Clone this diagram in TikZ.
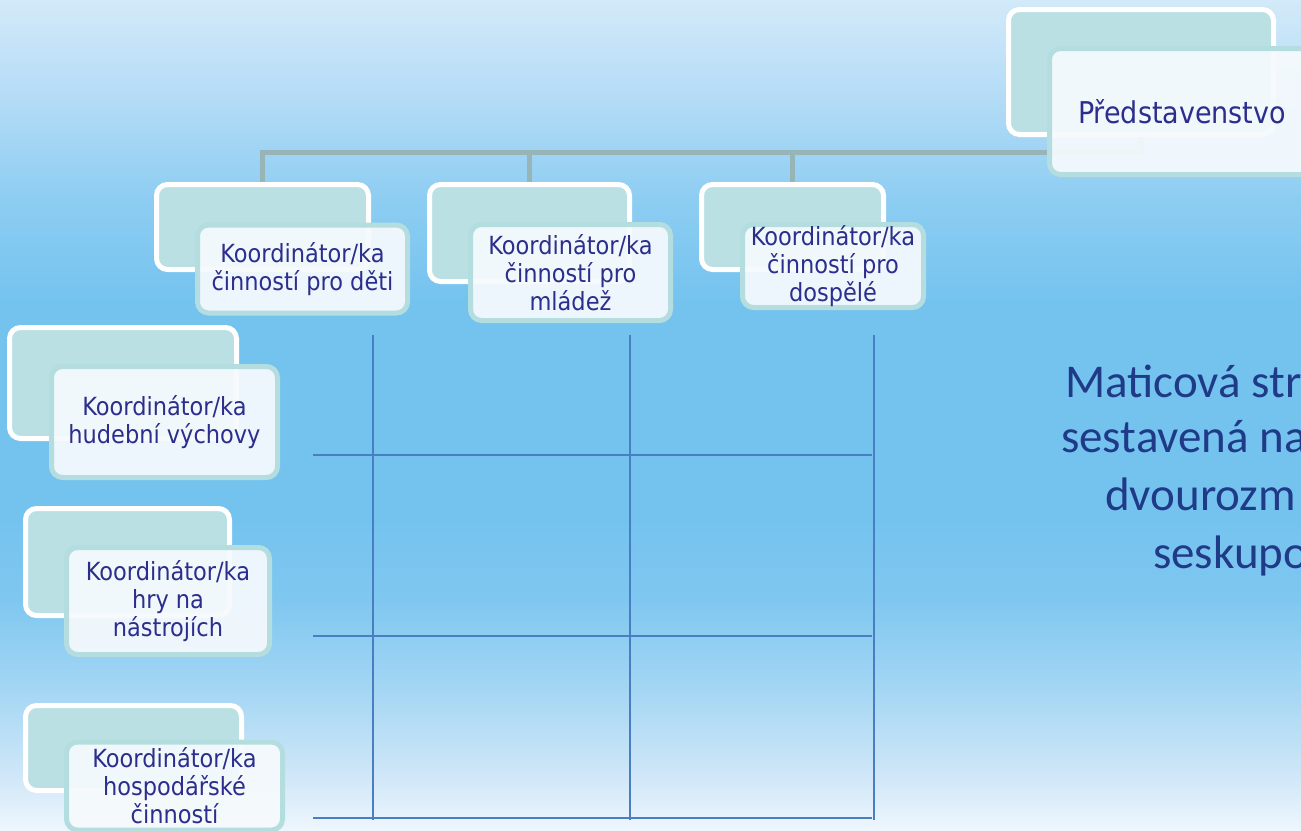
\documentclass[tikz,border=0pt]{standalone}
\usepackage{fontspec}
\newfontfamily\boxfont{DejaVu Sans Condensed}
\newfontfamily\notefont{Carlito}

% palette
\definecolor{skyA}{HTML}{D2EAF9}
\definecolor{skyB}{HTML}{B3DBF6}
\definecolor{skyC}{HTML}{8DCDF2}
\definecolor{skyD}{HTML}{74C3EF}
\definecolor{skyE}{HTML}{7FC7F0}
\definecolor{skyF}{HTML}{A9D8F4}
\definecolor{skyG}{HTML}{D2E8F8}
\definecolor{skyH}{HTML}{EEF6FD}
\definecolor{backfill}{HTML}{BBE0E3}
\definecolor{frontfill}{HTML}{F6FAFD}
\definecolor{frontedge}{HTML}{B4DDE0}
\definecolor{navytext}{HTML}{2B2E8C}
\definecolor{notetext}{HTML}{1F3A87}
\definecolor{busgrey}{HTML}{97B4B6}
\definecolor{gridblue}{HTML}{4A7EC2}

\pgfdeclarelayer{back}
\pgfsetlayers{back,main}

\begin{document}
\begin{tikzpicture}[x=1pt,y=-1pt,
  backbox/.style={rectangle, draw=white, line width=5pt, fill=backfill,
    rounded corners=11pt, inner sep=0pt},
  frontbox/.style={rectangle, draw=frontedge, line width=5pt, fill=frontfill,
    fill opacity=0.93, text opacity=1, rounded corners=11pt, inner sep=0pt,
    align=center, text=navytext, font=\boxfont\fontsize{25}{28}\selectfont},
  headbox/.style={frontbox, font=\boxfont\fontsize{30}{34}\selectfont},
  bus/.style={draw=busgrey, line width=5pt},
  gridline/.style={draw=gridblue, line width=2.2pt},
  note/.style={anchor=base west, inner sep=0pt, text=notetext,
    font=\notefont\fontsize{47}{57}\selectfont}]

\useasboundingbox (0,0) rectangle (1301,830);
% sky backdrop in bands: light at the top and bottom, deeper blue in the middle
\begin{pgfonlayer}{back}
  \shade[top color=skyA, bottom color=skyB] (0,0) rectangle (1301,100.5);
  \shade[top color=skyB, bottom color=skyC] (0,100) rectangle (1301,200.5);
  \shade[top color=skyC, bottom color=skyD] (0,200) rectangle (1301,300.5);
  \fill[skyD] (0,300) rectangle (1301,520.5);
  \shade[top color=skyD, bottom color=skyE] (0,520) rectangle (1301,600.5);
  \shade[top color=skyE, bottom color=skyF] (0,600) rectangle (1301,700.5);
  \shade[top color=skyF, bottom color=skyG] (0,700) rectangle (1301,780.5);
  \shade[top color=skyG, bottom color=skyH] (0,780) rectangle (1301,830);
\end{pgfonlayer}

% board
\node[backbox, minimum width=265pt, minimum height=125pt] (b7) at (1141,72) {};
\node[headbox, minimum width=265pt, minimum height=126pt] (f7) at (1182,111.5) {Představenstvo};

% coordinators by age group
\node[backbox, minimum width=212pt, minimum height=85pt] (b1) at (262.5,227) {};
\node[frontbox, minimum width=210pt, minimum height=88pt] (f1) at (302.5,269)
  {Koordinátor/ka\\činností pro děti};

\node[backbox, minimum width=200pt, minimum height=97pt] (b2) at (529.5,233) {};
\node[frontbox, minimum width=200pt, minimum height=96pt] (f2) at (570.5,272.5)
  {Koordinátor/ka\\činností pro\\mládež};

\node[backbox, minimum width=182pt, minimum height=85pt] (b3) at (792.5,227) {};
\node[frontbox, minimum width=181pt, minimum height=83pt] (f3) at (833,266)
  {Koordinátor/ka\\činností pro\\dospělé};

% coordinators by activity
\node[backbox, minimum width=227pt, minimum height=111pt] (b4) at (123,383) {};
\node[frontbox, minimum width=226pt, minimum height=111pt] (f4) at (164.5,422)
  {Koordinátor/ka\\hudební výchovy};

\node[backbox, minimum width=204pt, minimum height=107pt] (b5) at (127.5,562) {};
\node[frontbox, minimum width=203pt, minimum height=107pt] (f5) at (168,601)
  {Koordinátor/ka\\hry na\\nástrojích};

\node[backbox, minimum width=216pt, minimum height=85pt] (b6) at (133.5,748) {};
\node[frontbox, minimum width=216pt, minimum height=88pt] (f6) at (174.5,786)
  {Koordinátor/ka\\hospodářské\\činností};

% connectors from the board
\coordinate (busline) at (0,152);
\begin{pgfonlayer}{back}
  \draw[bus] (b7.south) -- (b7.south |- busline) -| (b1.north);
  \draw[bus] (b2.north |- busline) -- (b2.north);
  \draw[bus] (b3.north |- busline) -- (b3.north);
\end{pgfonlayer}

% matrix grid
\foreach \gx in {373,630,874}
  \draw[gridline] (\gx,335) -- (\gx,820);
\foreach \gy in {455,636,818}
  \draw[gridline] (313,\gy) -- (872,\gy);

% side note
\node[note] (n1) at (1065,397) {Maticová str};
\node[note] (n2) at (1061,452) {sestavená na};
\node[note] (n3) at (1105,510) {dvourozm};
\node[note] (n4) at (1153,568) {seskupo};
\end{tikzpicture}
\end{document}
